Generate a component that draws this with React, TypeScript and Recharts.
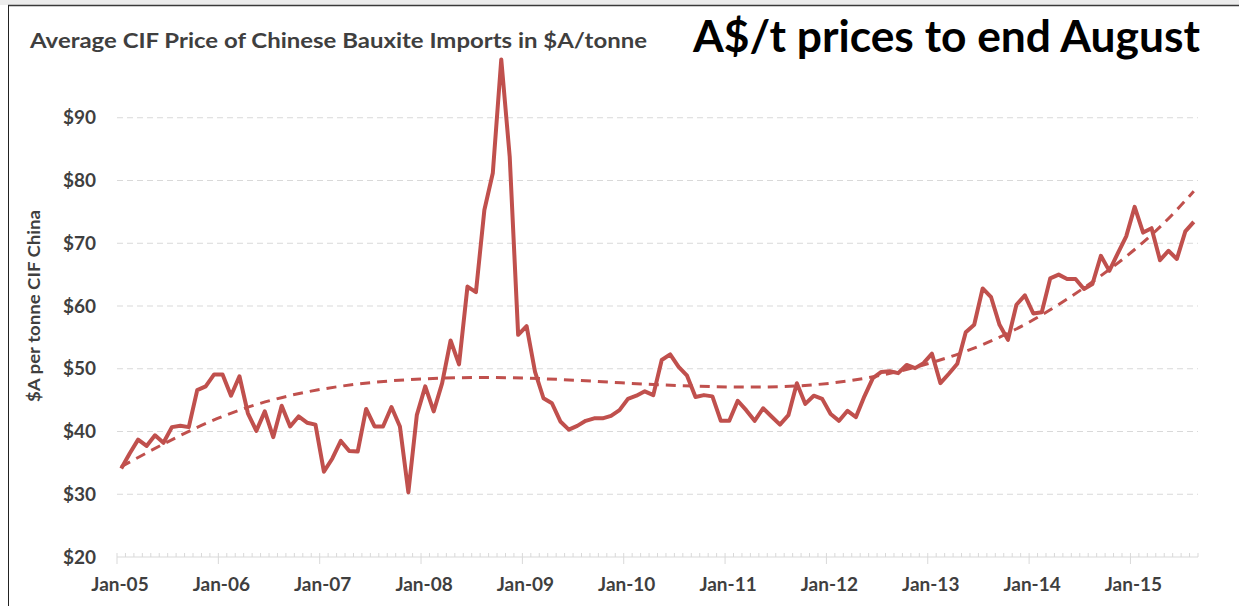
import React from 'react';
import { LineChart, Line, XAxis, YAxis, CartesianGrid } from 'recharts';

// Jan labels for the date axis (one per year)
const yearLabels = ['Jan-05', 'Jan-06', 'Jan-07', 'Jan-08', 'Jan-09', 'Jan-10', 'Jan-11', 'Jan-12', 'Jan-13', 'Jan-14', 'Jan-15'];

// monthly average CIF price, A$/t, Jan-05 .. Aug-15
const price = [
  34.1, 36.5, 38.7, 37.7, 39.4, 38.2, 40.7, 40.9, 40.7, 46.6, 47.2, 49.1, // 2005
  49.1, 45.7, 48.8, 42.9, 40.1, 43.2, 39.1, 44.1, 40.8, 42.4, 41.4, 41.1, // 2006
  33.6, 35.7, 38.5, 36.9, 36.8, 43.6, 40.8, 40.8, 43.9, 40.8, 30.3, 42.6, // 2007
  47.2, 43.2, 47.7, 54.5, 50.7, 63.1, 62.2, 75.3, 81.2, 99.3, 83.8, 55.4, // 2008
  56.8, 49.5, 45.3, 44.5, 41.6, 40.3, 40.9, 41.7, 42.1, 42.1, 42.5, 43.4, // 2009
  45.2, 45.7, 46.4, 45.8, 51.4, 52.3, 50.3, 48.9, 45.5, 45.8, 45.6, 41.7, // 2010
  41.7, 44.9, 43.4, 41.7, 43.7, 42.4, 41.1, 42.6, 47.7, 44.4, 45.7, 45.2, // 2011
  42.8, 41.7, 43.3, 42.3, 45.6, 48.5, 49.5, 49.6, 49.3, 50.6, 50.1, 50.9, // 2012
  52.4, 47.7, 49.2, 50.8, 55.8, 57.0, 62.8, 61.4, 57.0, 54.6, 60.2, 61.7, // 2013
  58.8, 59.0, 64.4, 65.0, 64.3, 64.3, 62.7, 63.5, 68.0, 65.6, 68.4, 71.1, // 2014
  75.8, 71.7, 72.4, 67.3, 68.8, 67.5, 71.9, 73.4, // 2015
];

// polynomial trendline read at each January and at the last month
const trendMonth = [0, 12, 24, 36, 48, 60, 72, 84, 96, 108, 120, 127];
const trendValue = [34.4, 42.4, 46.8, 48.4, 48.5, 47.7, 47.1, 47.7, 51.0, 57.8, 69.0, 78.3];

const yTicks = [20, 30, 40, 50, 60, 70, 80, 90];
const gridValues = [30, 40, 50, 60, 70, 80, 90];

const RED = '#c0504d';
const AXIS = '#d9d9d9';
const TEXT = '#3f3f3f';
const FONT = 'Lato, "Open Sans", sans-serif';

const data = price.map((p, i) => {
  const t = trendMonth.indexOf(i);
  return { x: i + 0.5, price: p, trend: t >= 0 ? trendValue[t] : null };
});

const monthTicks = Array.from({ length: price.length + 1 }, (_, i) => i);

function MonthTick(props: any) {
  const { x, y, payload } = props;
  const m = payload.value as number;
  const isJan = m % 12 === 0 && m / 12 < yearLabels.length;
  return (
    <g>
      <line x1={x} x2={x} y1={y - 4} y2={isJan ? y + 7 : y} stroke={AXIS} strokeWidth={1} />
      {isJan && (
        <text x={x + 3} y={y + 34} textAnchor="middle" fontFamily={FONT} fontSize={19} fontWeight={700} fill={TEXT}>
          {yearLabels[m / 12]}
        </text>
      )}
    </g>
  );
}

export default function App() {
  return (
    <div style={{ position: 'absolute', left: 0, top: 0, width: 1239, height: 606, background: '#fff' }}>
      <LineChart width={1239} height={606} data={data} margin={{ top: 55, right: 41, bottom: 0, left: 57 }}>
        <CartesianGrid
          vertical={false}
          horizontalValues={gridValues}
          stroke={AXIS}
          strokeDasharray="6 4"
        />
        <XAxis
          dataKey="x"
          type="number"
          domain={[0, price.length]}
          ticks={monthTicks}
          interval={0}
          tick={<MonthTick />}
          tickLine={false}
          tickSize={0}
          tickMargin={0}
          axisLine={{ stroke: AXIS, strokeWidth: 1 }}
          height={49}
        />
        <YAxis
          domain={[20, 100]}
          ticks={yTicks}
          tickFormatter={(v: number) => `$${v}`}
          axisLine={false}
          tickLine={false}
          tickSize={0}
          tickMargin={21}
          width={60}
          tick={{ fontFamily: FONT, fontSize: 19, fontWeight: 700, fill: TEXT }}
        />
        <Line
          dataKey="trend"
          type="natural"
          connectNulls
          stroke={RED}
          strokeWidth={3}
          strokeDasharray="10 7"
          dot={false}
          activeDot={false}
          isAnimationActive={false}
        />
        <Line
          dataKey="price"
          type="linear"
          stroke={RED}
          strokeWidth={4}
          strokeLinejoin="round"
          dot={false}
          activeDot={false}
          isAnimationActive={false}
        />
      </LineChart>

      {/* frame, titles and axis caption */}
      <svg width={1239} height={606} style={{ position: 'absolute', left: 0, top: 0, pointerEvents: 'none' }}>
        <rect x={0} y={0} width={1239} height={5} fill="#ececec" />
        <line x1={8} x2={1239} y1={5.5} y2={5.5} stroke="#3a3a3a" strokeWidth={1.5} />
        <line x1={8.5} x2={8.5} y1={5} y2={606} stroke="#222" strokeWidth={1} />
        <text x={30} y={48} fontFamily={FONT} fontSize={21} fontWeight={700} fill={TEXT} textLength={617} lengthAdjust="spacingAndGlyphs">
          Average CIF Price of Chinese Bauxite Imports in $A/tonne
        </text>
        <text x={693} y={52} fontFamily={FONT} fontSize={44} fontWeight={700} fill="#000" textLength={507} lengthAdjust="spacingAndGlyphs">
          A$/t prices to end August
        </text>
        <text
          transform="translate(40,306) rotate(-90)"
          textAnchor="middle"
          fontFamily={FONT}
          fontSize={17}
          fontWeight={700}
          fill={TEXT}
          textLength={192}
          lengthAdjust="spacingAndGlyphs"
        >
          $A per tonne CIF China
        </text>
      </svg>
    </div>
  );
}
